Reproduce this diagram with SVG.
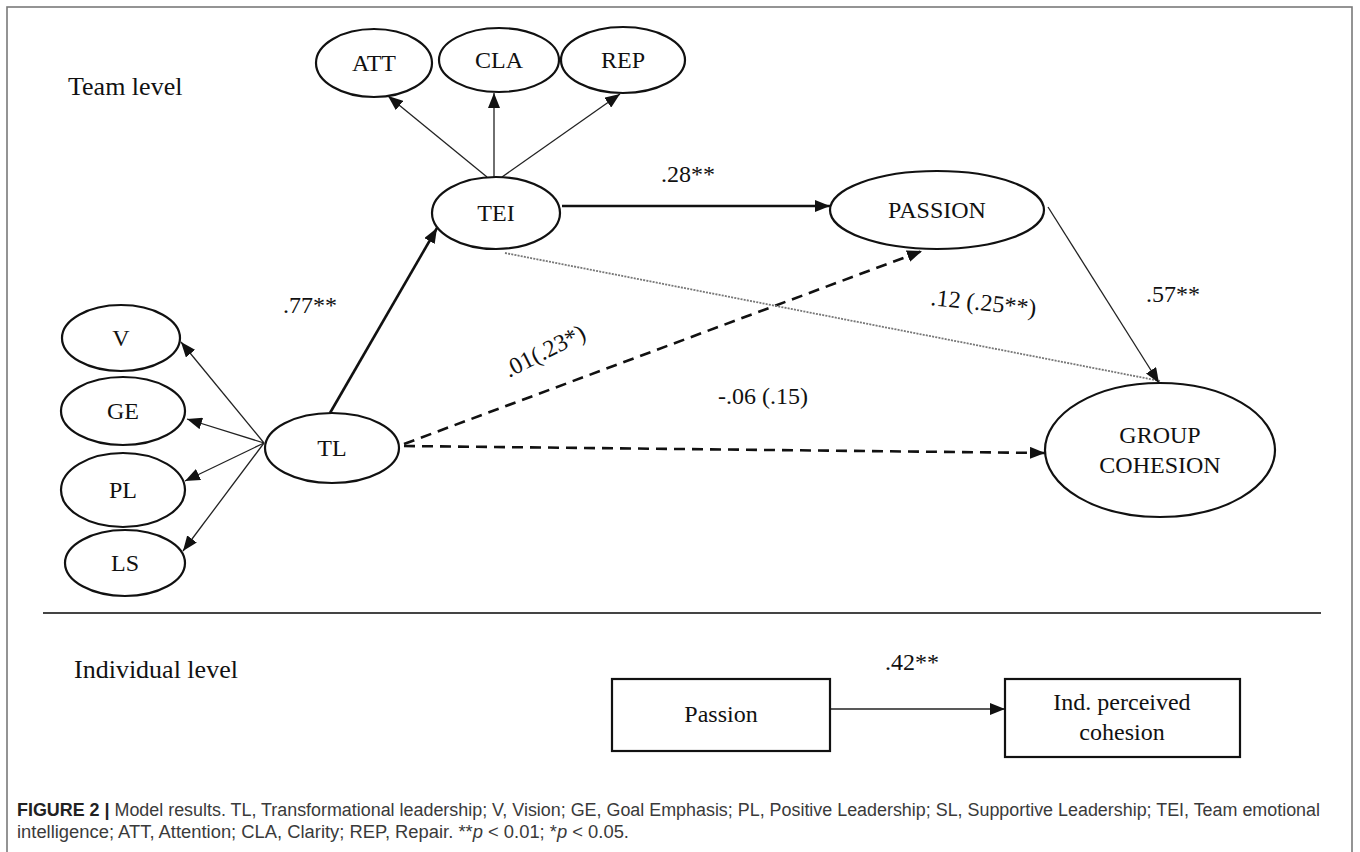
<svg xmlns="http://www.w3.org/2000/svg" width="1360" height="852" viewBox="0 0 1360 852">
<style>
.bg{fill:#fff}
.frame{fill:none;stroke:#7a7a7a;stroke-width:1.6}
.node{fill:#fff;stroke:#111;stroke-width:2.2}
.lbl{font-family:"Liberation Serif","Times New Roman",serif;font-size:24px;fill:#111;text-anchor:middle}
.lvl{font-family:"Liberation Serif","Times New Roman",serif;font-size:26px;fill:#111}
.coef{font-family:"Liberation Serif","Times New Roman",serif;font-size:24px;fill:#111}
.thin{fill:none;stroke:#222;stroke-width:1.3}
.thick{fill:none;stroke:#111;stroke-width:2.6}
.dash{fill:none;stroke:#111;stroke-width:2.6;stroke-dasharray:11 7}
.dot{fill:none;stroke:#777;stroke-width:1.8;stroke-dasharray:2 1.2}
.sep{stroke:#444;stroke-width:2}
.cap{font-family:"Liberation Sans",Arial,sans-serif;font-size:18px;fill:#3a3a3a}
.capb{font-weight:bold;fill:#222}
</style>
<defs>
<marker id="ah" markerUnits="userSpaceOnUse" markerWidth="15" markerHeight="12" refX="15" refY="6" orient="auto">
<path d="M0,0 L15,6 L0,12 Z" fill="#111"/>
</marker>
</defs>
<rect class="bg" x="0" y="0" width="1360" height="852"/>
<rect class="frame" x="7" y="7" width="1345" height="900"/>

<text class="lvl" x="68" y="95">Team level</text>
<text class="lvl" x="74" y="678">Individual level</text>
<line class="sep" x1="43" y1="613" x2="1321" y2="613"/>

<g id="connectors">
<line class="thin" x1="487" y1="177" x2="388" y2="96" marker-end="url(#ah)"/>
<line class="thin" x1="494" y1="177" x2="494" y2="93" marker-end="url(#ah)"/>
<line class="thin" x1="502" y1="177" x2="620" y2="94" marker-end="url(#ah)"/>
<line class="thick" x1="562" y1="206" x2="830" y2="206" marker-end="url(#ah)"/>
<line class="thick" x1="330" y1="413" x2="437" y2="228" marker-end="url(#ah)"/>
<line class="thin" x1="264" y1="443" x2="181" y2="342" marker-end="url(#ah)"/>
<line class="thin" x1="264" y1="443" x2="187" y2="419" marker-end="url(#ah)"/>
<line class="thin" x1="264" y1="443" x2="185" y2="481" marker-end="url(#ah)"/>
<line class="thin" x1="264" y1="443" x2="183" y2="551" marker-end="url(#ah)"/>
<line class="dash" x1="404" y1="444" x2="922" y2="251" marker-end="url(#ah)"/>
<line class="dash" x1="404" y1="446" x2="1045" y2="453" marker-end="url(#ah)"/>
<line class="dot" x1="505" y1="253" x2="1160" y2="381"/>
<line class="thin" x1="1048" y1="207" x2="1159" y2="383" marker-end="url(#ah)"/>
<line class="thin" x1="830" y1="709" x2="1005" y2="709" marker-end="url(#ah)"/>
<text class="coef" x="661" y="182">.28**</text>
<text class="coef" x="283" y="313">.77**</text>
<text class="coef" x="509" y="378" transform="rotate(-27 509 378)">.01(.23*)</text>
<text class="coef" x="930" y="305" transform="rotate(6 930 305)">.12 (.25**)</text>
<text class="coef" x="1146" y="302">.57**</text>
<text class="coef" x="718" y="404">-.06 (.15)</text>
<text class="coef" x="885" y="670">.42**</text>
</g>

<g id="ATT"><ellipse class="node" cx="374" cy="63" rx="58" ry="34"/><text class="lbl" x="374" y="71">ATT</text></g>
<g id="CLA"><ellipse class="node" cx="499" cy="60" rx="60" ry="32"/><text class="lbl" x="499" y="68">CLA</text></g>
<g id="REP"><ellipse class="node" cx="623" cy="60" rx="62" ry="33"/><text class="lbl" x="623" y="68">REP</text></g>
<g id="TEI"><ellipse class="node" cx="496" cy="213" rx="64" ry="36"/><text class="lbl" x="496" y="221">TEI</text></g>
<g id="PASSION"><ellipse class="node" cx="937" cy="210" rx="107" ry="39"/><text class="lbl" x="937" y="218">PASSION</text></g>
<g id="TL"><ellipse class="node" cx="332" cy="448" rx="67" ry="35"/><text class="lbl" x="332" y="456">TL</text></g>
<g id="V"><ellipse class="node" cx="121" cy="338" rx="59" ry="33"/><text class="lbl" x="121" y="346">V</text></g>
<g id="GE"><ellipse class="node" cx="123" cy="411" rx="62" ry="34"/><text class="lbl" x="123" y="419">GE</text></g>
<g id="PL"><ellipse class="node" cx="123" cy="490" rx="62" ry="37"/><text class="lbl" x="123" y="498">PL</text></g>
<g id="LS"><ellipse class="node" cx="125" cy="563" rx="60" ry="33"/><text class="lbl" x="125" y="571">LS</text></g>
<g id="GROUP_COHESION"><ellipse class="node" cx="1160" cy="450" rx="115" ry="67"/><text class="lbl" x="1160" y="443">GROUP</text><text class="lbl" x="1160" y="473">COHESION</text></g>
<g id="Passion_box"><rect class="node" x="612" y="679" width="218" height="72"/><text class="lbl" x="721" y="722">Passion</text></g>
<g id="Ind_box"><rect class="node" x="1005" y="679" width="235" height="78"/><text class="lbl" x="1122" y="710">Ind. perceived</text><text class="lbl" x="1122" y="740">cohesion</text></g>

<text class="cap" x="17" y="816" textLength="1303" lengthAdjust="spacingAndGlyphs"><tspan class="capb">FIGURE 2 |</tspan> Model results. TL, Transformational leadership; V, Vision; GE, Goal Emphasis; PL, Positive Leadership; SL, Supportive Leadership; TEI, Team emotional</text>
<text class="cap" x="17" y="838" textLength="612" lengthAdjust="spacingAndGlyphs">intelligence; ATT, Attention; CLA, Clarity; REP, Repair. **<tspan font-style="italic">p</tspan> &lt; 0.01; *<tspan font-style="italic">p</tspan> &lt; 0.05.</text>
</svg>
